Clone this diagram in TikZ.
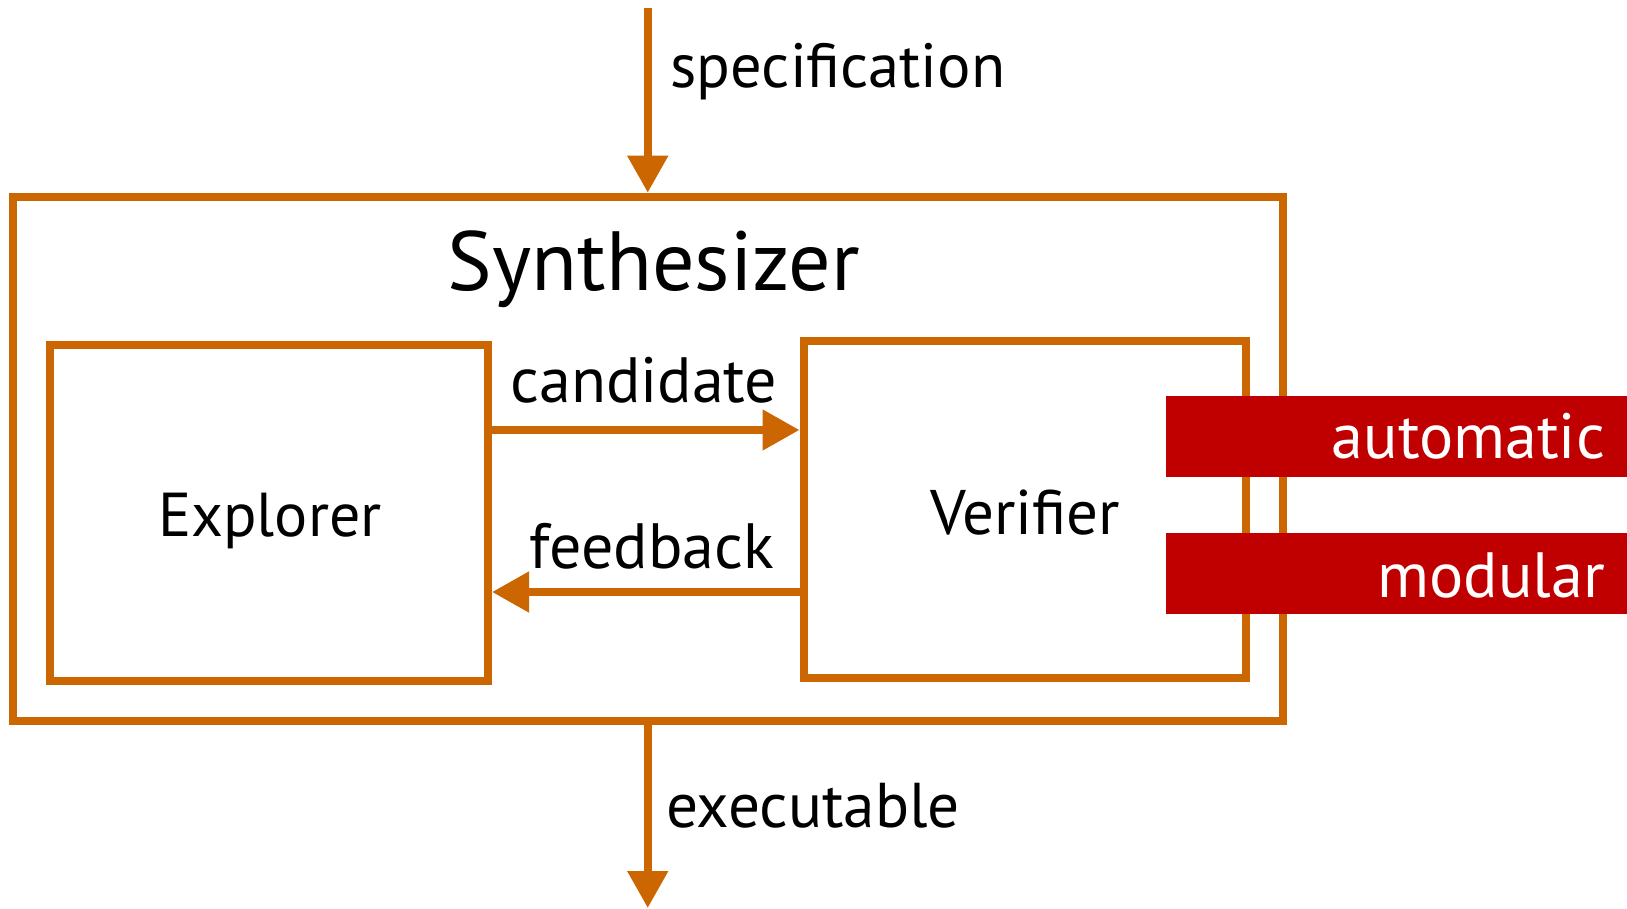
\documentclass[tikz,border=0pt]{standalone}
\usepackage{fontspec}
\setmainfont{PT Sans}
\usetikzlibrary{arrows.meta}
\definecolor{orng}{RGB}{204,102,0}
\definecolor{redbar}{RGB}{192,0,0}
\tikzset{
  box/.style={draw=orng, line width=8pt, inner sep=0pt},
  bar/.style={fill=redbar, draw=none, inner sep=0pt, minimum width=461pt, minimum height=81pt},
  flow/.style={draw=orng, line width=8pt, -{Triangle[width=39pt,length=37pt]}},
  lbl/.style={inner sep=0pt, font=\fontsize{64}{70}\selectfont, anchor=base},
  big/.style={inner sep=0pt, font=\fontsize{84}{90}\selectfont, anchor=base},
  wlbl/.style={inner sep=0pt, font=\fontsize{64}{70}\selectfont, anchor=base east, text=white}
}
\begin{document}
\begin{tikzpicture}[x=1pt,y=-1pt]
\useasboundingbox (0,0) rectangle (1627,908);
% boxes
\node[box, minimum width=1270.5pt, minimum height=524.3pt] (outer) at (647.75,458.85) {};
\node[box, minimum width=437.7pt, minimum height=336pt] (expl) at (269.15,513) {};
\node[box, minimum width=442.5pt, minimum height=337pt] (ver) at (1024.75,509.5) {};
% red bars
\node[bar] (auto) at (1396.5,436.5) {};
\node[bar] (modu) at (1396.5,573.5) {};
\node[wlbl] (autot) at (1605,458) {automatic};
\node[wlbl] (modut) at (1605,597) {modular};
% labels
\node[big] (synt) at (654,290) {Synthesizer};
\node[lbl, font=\fontsize{62}{70}\selectfont] (explt) at (270,536) {Explorer};
\node[lbl, font=\fontsize{63}{70}\selectfont] (vert) at (1025,534.4) {Verifier};
\node[lbl] (candt) at (644,402.6) {candidate};
\node[lbl] (feedt) at (652,568.6) {feedback};
\node[lbl, font=\fontsize{62.5}{70}\selectfont] (spect) at (838,87) {specification};
\node[lbl, font=\fontsize{63.3}{70}\selectfont] (exect) at (813,827) {executable};
% connectors
\coordinate (top) at (647.75,8);
\coordinate (bot) at (647.75,908);
\coordinate (cy) at (0,430);
\coordinate (fy) at (0,592);
\draw[flow] (top) -- (outer.north);
\draw[flow] (outer.south) -- (bot);
\draw[flow] (expl.east |- cy) -- (ver.west |- cy);
\draw[flow] (ver.west |- fy) -- (expl.east |- fy);
\end{tikzpicture}
\end{document}
